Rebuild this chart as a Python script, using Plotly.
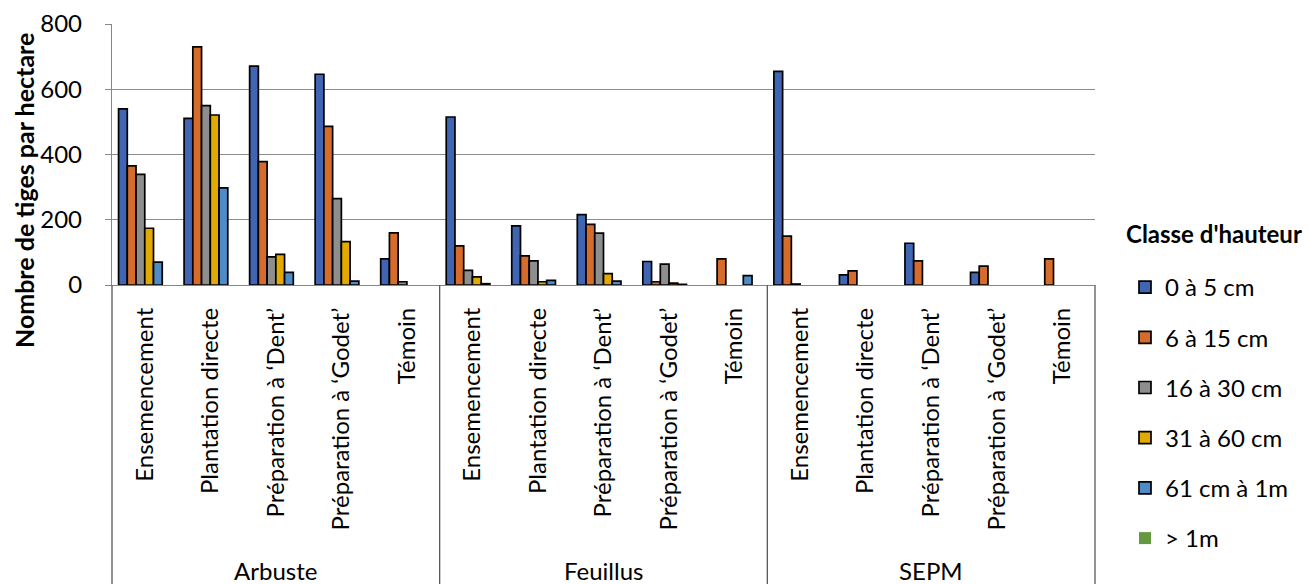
import plotly.graph_objects as go

# Treatments within each vegetation group, and the groups themselves
groups = ["Arbuste", "Feuillus", "SEPM"]
treatments = ["Ensemencement", "Plantation directe", "Préparation à ‘Dent’",
              "Préparation à ‘Godet’", "Témoin"]

# Height classes (legend) and their colours
classes = ["0 à 5 cm", "6 à 15 cm", "16 à 30 cm", "31 à 60 cm", "61 cm à 1m", "> 1m"]
colors = ["#3F65B3", "#D56C2C", "#8E8E8E", "#E2A900", "#4F8BC6", "#65993F"]

# Stems per hectare, one list per height class, 15 values (group x treatment)
h_0_5 = [540, 511, 671, 646, 80,
         515, 181, 216, 72, 0,
         655, 31, 128, 39, 0]
h_6_15 = [365, 730, 378, 486, 160,
          120, 89, 186, 10, 80,
          150, 43, 74, 58, 80]
h_16_30 = [339, 550, 86, 265, 10,
           45, 74, 159, 64, 0,
           3, 0, 0, 0, 0]
h_31_60 = [174, 521, 94, 133, 0,
           25, 10, 35, 6, 0,
           0, 0, 0, 0, 0]
h_61_100 = [70, 298, 39, 12, 0,
            4, 14, 12, 2, 29,
            0, 0, 0, 0, 0]
h_over_1m = [0, 0, 0, 0, 0,
             0, 0, 0, 0, 0,
             0, 0, 0, 0, 0]
series = [h_0_5, h_6_15, h_16_30, h_31_60, h_61_100, h_over_1m]

FONT = "Lato"
n_cat = len(groups) * len(treatments)
xpos = list(range(n_cat))
ticktext = treatments * len(groups)

fig = go.Figure()
for i, (name, vals, col) in enumerate(zip(classes, series, colors)):
    # empty cells are left blank rather than drawn as flat outlines
    fig.add_trace(go.Bar(
        x=xpos, y=[v if v else None for v in vals], name=name,
        marker=dict(color=col,
                    line=dict(color="#000000", width=0 if i == 5 else 1.7)),
        legendgroup=str(i),
    ))

# Plot area in pixels: x 112..1095, y 24..285 (figure 1309x584)
W, H = 1309, 584
L, R, T, B = 112, 1095, 24, 285
plot_w, plot_h = R - L, B - T


def px_x(p):
    return (p - L) / plot_w


def px_y(p):
    return (B - p) / plot_h


shapes = []
for k in range(len(groups) + 1):
    shapes.append(dict(type="line", xref="paper", yref="paper",
                       x0=k / len(groups), x1=k / len(groups),
                       y0=0, y1=px_y(H),
                       line=dict(color="#595959", width=1.3)))

annotations = []
for k, g in enumerate(groups):
    annotations.append(dict(text=g, xref="paper", yref="paper",
                            x=(k + 0.5) / len(groups), y=px_y(570),
                            xanchor="center", yanchor="middle", showarrow=False,
                            font=dict(family=FONT, size=24, color="#000000")))

# Value-axis title
annotations.append(dict(text="<b>Nombre de tiges par hectare</b>",
                        xref="paper", yref="paper", x=px_x(24), y=px_y(191),
                        xanchor="center", yanchor="middle", textangle=-90,
                        showarrow=False,
                        font=dict(family=FONT, size=25, color="#000000")))

# Legend heading
annotations.append(dict(text="<b>Classe d'hauteur</b>",
                        xref="paper", yref="paper", x=px_x(1124), y=px_y(233),
                        xanchor="left", yanchor="middle", showarrow=False,
                        font=dict(family=FONT, size=24, color="#000000")))

fig.update_layout(
    width=W, height=H,
    margin=dict(l=L, r=W - R, t=T, b=H - B, pad=0, autoexpand=False),
    paper_bgcolor="white", plot_bgcolor="white",
    barmode="group", bargap=0.2, bargroupgap=0,
    font=dict(family=FONT, size=24, color="#000000"),
    shapes=shapes, annotations=annotations,
    legend=dict(
        x=px_x(1125), xanchor="left",
        y=px_y(265), yanchor="top",
        font=dict(size=24), tracegroupgap=16,
        itemwidth=30, bgcolor="rgba(0,0,0,0)", maxheight=400,
    ),
    xaxis=dict(
        range=[-0.5, n_cat - 0.5], tickmode="array", tickvals=xpos,
        ticktext=ticktext, tickangle=-90, ticks="", ticklabelstandoff=12,
        showline=True, linecolor="#868686", linewidth=1.3,
        showgrid=False, zeroline=False, automargin=False,
        tickfont=dict(family=FONT, size=24),
    ),
    yaxis=dict(
        range=[0, 800], dtick=200, tickmode="linear",
        showline=True, linecolor="#868686", linewidth=1.3,
        ticks="outside", ticklen=6, tickcolor="#868686",
        ticklabelstandoff=18,
        showgrid=True, gridcolor="#8C8C8C", gridwidth=1.3,
        zeroline=False, automargin=False,
        tickfont=dict(family=FONT, size=24),
    ),
)

fig.write_html("out.html")
